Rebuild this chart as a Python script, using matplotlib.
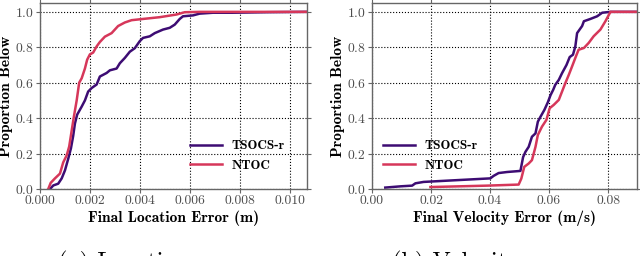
import matplotlib
matplotlib.use('Agg')
import matplotlib.pyplot as plt

plt.rcParams['font.family'] = 'cmr10'
plt.rcParams['axes.formatter.use_mathtext'] = True

# location error CDF (m)
loc_tsocs_x = [0.0004, 0.000533, 0.00073, 0.00087, 0.001, 0.00113, 0.00124, 0.00133, 0.0014,
               0.00149, 0.00167, 0.0018, 0.00193, 0.00207, 0.00227, 0.0024, 0.00267, 0.0028,
               0.00307, 0.0032, 0.0034, 0.0036, 0.0038, 0.004, 0.00413, 0.0044, 0.0046,
               0.00493, 0.0052, 0.0054, 0.0056, 0.00573, 0.00613, 0.0064, 0.00693, 0.0077,
               0.0091, 0.0107]
loc_tsocs_y = [0.0, 0.02, 0.03, 0.06, 0.105, 0.17, 0.23, 0.30, 0.37, 0.42, 0.465, 0.50, 0.55,
               0.57, 0.59, 0.635, 0.655, 0.67, 0.68, 0.71, 0.74, 0.775, 0.795, 0.835, 0.853,
               0.862, 0.88, 0.90, 0.91, 0.928, 0.96, 0.975, 0.98, 0.99, 0.995, 0.995, 0.998, 1.0]
loc_ntoc_x = [0.00033, 0.00043, 0.0006, 0.0008, 0.00093, 0.00107, 0.00117, 0.00127, 0.00136,
              0.00147, 0.00157, 0.00167, 0.0018, 0.00189, 0.002, 0.00213, 0.00227, 0.0024,
              0.0026, 0.00287, 0.00313, 0.0034, 0.00367, 0.00413, 0.0048, 0.00547, 0.0058,
              0.0064, 0.0107]
loc_ntoc_y = [0.0, 0.035, 0.06, 0.087, 0.15, 0.19, 0.24, 0.33, 0.41, 0.50, 0.60, 0.625, 0.68,
              0.73, 0.76, 0.77, 0.805, 0.83, 0.86, 0.88, 0.92, 0.94, 0.953, 0.96, 0.97, 0.985,
              0.998, 1.0, 1.0]

# velocity error CDF (m/s)
vel_tsocs_x = [0.0045, 0.0096, 0.0136, 0.0147, 0.0175, 0.0277, 0.0367, 0.0401, 0.0412, 0.0429,
               0.0458, 0.0503, 0.0512, 0.052, 0.0531, 0.0542, 0.0554, 0.0562, 0.0571, 0.0584,
               0.0596, 0.0605, 0.0614, 0.0621, 0.0633, 0.0644, 0.0659, 0.067, 0.0681, 0.0689,
               0.0695, 0.0712, 0.0718, 0.074, 0.0763, 0.078, 0.0808, 0.091]
vel_tsocs_y = [0.008, 0.015, 0.019, 0.032, 0.04, 0.049, 0.057, 0.06, 0.074, 0.09, 0.096, 0.102,
               0.18, 0.21, 0.238, 0.295, 0.314, 0.38, 0.408, 0.446, 0.49, 0.53, 0.56, 0.588,
               0.616, 0.654, 0.70, 0.745, 0.758, 0.805, 0.88, 0.92, 0.947, 0.96, 0.975, 0.995,
               1.0, 1.0]
vel_ntoc_x = [0.0198, 0.039, 0.0497, 0.0506, 0.0516, 0.0531, 0.0542, 0.0554, 0.0562, 0.0576,
              0.0591, 0.0602, 0.0616, 0.0633, 0.0644, 0.0655, 0.0667, 0.0678, 0.0689, 0.07,
              0.0718, 0.0734, 0.0751, 0.0774, 0.0791, 0.0808, 0.091]
vel_ntoc_y = [0.011, 0.019, 0.025, 0.059, 0.125, 0.144, 0.163, 0.238, 0.305, 0.352, 0.39,
              0.456, 0.475, 0.503, 0.55, 0.597, 0.645, 0.692, 0.74, 0.786, 0.796, 0.824,
              0.862, 0.90, 0.947, 1.0, 1.0]

purple = '#3d0c73'
red = '#d6375a'

fig = plt.figure(figsize=(6.4, 2.56), dpi=100)
ax1 = fig.add_axes([40/640, 67/256, 267/640, 186/256])
ax2 = fig.add_axes([372/640, 67/256, 265/640, 186/256])


def style(ax, xlabel):
    ax.set_ylim(0, 1.05)
    ax.set_yticks([0.0, 0.2, 0.4, 0.6, 0.8, 1.0])
    ax.grid(True, color='k', linestyle=':', linewidth=0.8)
    for s in ax.spines.values():
        s.set_color('0.4')
        s.set_linewidth(1.0)
    ax.tick_params(direction='out', length=3, width=0.8, color='0.4',
                   labelsize=9.8, labelcolor='0.3', pad=1.5,
                   top=True, right=True)
    ax.set_xlabel(xlabel, family='cmb10', fontsize=11.2, labelpad=2)
    ax.set_ylabel('Proportion Below', family='cmb10', fontsize=11.2, labelpad=1.5)


ax1.plot(loc_tsocs_x, loc_tsocs_y, color=purple, lw=1.8, label='TSOCS-r')
ax1.plot(loc_ntoc_x, loc_ntoc_y, color=red, lw=1.8, label='NTOC')
ax1.set_xlim(0, 0.0107)
ax1.set_xticks([0.0, 0.002, 0.004, 0.006, 0.008, 0.010])
ax1.set_xticklabels(['0.000', '0.002', '0.004', '0.006', '0.008', '0.010'])
style(ax1, 'Final Location Error (m)')
ax1.legend(loc='lower left', bbox_to_anchor=(0.543, 0.065), borderaxespad=0,
           frameon=False, prop={'family': 'cmb10', 'size': 9.5},
           handlelength=2.4, handletextpad=0.7, labelspacing=0.55)

ax2.plot(vel_tsocs_x, vel_tsocs_y, color=purple, lw=1.8, label='TSOCS-r')
ax2.plot(vel_ntoc_x, vel_ntoc_y, color=red, lw=1.8, label='NTOC')
ax2.set_xlim(0, 0.0898)
ax2.set_xticks([0.0, 0.02, 0.04, 0.06, 0.08])
ax2.set_xticklabels(['0.00', '0.02', '0.04', '0.06', '0.08'])
style(ax2, 'Final Velocity Error (m/s)')
ax2.legend(loc='lower left', bbox_to_anchor=(0.023, 0.065), borderaxespad=0,
           frameon=False, prop={'family': 'cmb10', 'size': 9.5},
           handlelength=2.4, handletextpad=0.7, labelspacing=0.55)

# subfigure captions, cut off at the bottom edge as in the source
fig.text(58/640, 5/256, '(a) Location', family='cmr10', fontsize=17.5, va='top')
fig.text(392/640, 5/256, '(b) Velocity', family='cmr10', fontsize=17.5, va='top')

fig.savefig('out.png', dpi=100)
